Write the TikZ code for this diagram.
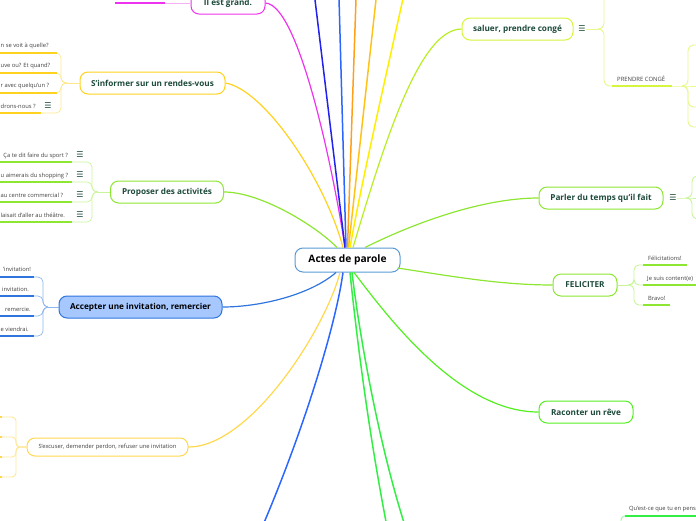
\documentclass[tikz,border=0pt]{standalone}
\usepackage{fontspec}
\setmainfont{Open Sans}
\newfontfamily\symfont{DejaVu Sans}
\definecolor{cMain}{HTML}{5B9BD5}
\definecolor{cText}{HTML}{1D4A3C}
\definecolor{cLeaf}{HTML}{404040}
\definecolor{cMag}{HTML}{EE33EE}
\definecolor{cMagL}{HTML}{F5B0F5}
\definecolor{cDBlue}{HTML}{2222EE}
\definecolor{cBlue}{HTML}{2B66FF}
\definecolor{cOrange}{HTML}{FF9F1A}
\definecolor{cOrGold}{HTML}{FFC21A}
\definecolor{cYellow}{HTML}{FFEE00}
\definecolor{cSal}{HTML}{B8EE22}
\definecolor{cSalB}{HTML}{D6F53F}
\definecolor{cSalL}{HTML}{E6F98A}
\definecolor{cGold}{HTML}{FFD21F}
\definecolor{cGoldL}{HTML}{FFE88A}
\definecolor{cLime}{HTML}{8DE632}
\definecolor{cLimeL}{HTML}{C9F59A}
\definecolor{cGreen}{HTML}{55EE22}
\definecolor{cBGreen}{HTML}{33EE44}
\definecolor{cAcc}{HTML}{2F75DD}
\definecolor{cAccF}{HTML}{A6C8FF}
\definecolor{cAccL}{HTML}{8FB5EE}
\definecolor{cExc}{HTML}{FFD84D}
\definecolor{cExcL}{HTML}{FFE799}
\begin{document}
\begin{tikzpicture}[x=1pt,y=-1pt,
  mainbox/.style={draw=cMain, line width=1pt, rounded corners=8pt, fill=white,
    minimum width=105pt, minimum height=24pt, inner sep=0pt,
    font=\bfseries\fontsize{10.2}{12}\selectfont, text=black},
  branch/.style={line width=1pt, rounded corners=8pt, fill=white, minimum height=22pt,
    inner sep=0pt, font=\bfseries\fontsize{8.2}{10}\selectfont, text=cText},
  leaf/.style={inner sep=0pt, font=\fontsize{5.8}{7}\selectfont, text=cLeaf},
  menu/.style={inner sep=0pt, font=\symfont\fontsize{8}{8}\selectfont, text=cText},
  link/.style={line width=1.2pt},
  straight/.style={line width=1.5pt},
  ul/.style={line width=1.6pt},
  thinline/.style={line width=0.7pt},
]
\useasboundingbox (0,0) rectangle (696,520);
\begin{scope}
\clip (0,0) rectangle (696,520);

% ---------- nodes ----------
\node[mainbox] (C) at (347.5,260) {Actes de parole};
\node[branch, draw=cMag, minimum width=74pt] (grand) at (228,3) {Il est grand.};
\node[branch, draw=cGold, minimum width=145pt] (inf) at (152.5,83) {S'informer sur un rendes-vous};
\node[branch, draw=cLime, minimum width=113pt] (prop) at (167,192) {Proposer des activités};
\node[branch, draw=cAcc, fill=cAccF, text=black, minimum width=163pt] (acc) at (140.5,307) {Accepter une invitation, remercier};
\node[branch, draw=cExc, minimum width=161pt, minimum height=18pt, font=\fontsize{5.8}{7}\selectfont, text=cLeaf] (exc) at (107.5,447) {S'excuser, demender perdon, refuser une invitation};
\node[branch, draw=cSalB, minimum width=111pt] (sal) at (517.5,29) {saluer, prendre congé};
\node[branch, draw=cLime, minimum width=124pt] (par) at (601,198) {Parler du temps qu'il fait};
\node[branch, draw=cLime, minimum width=64pt] (fel) at (585,285) {FELICITER};
\node[branch, draw=cGreen, minimum width=94pt] (rac) at (586,412) {Raconter un rêve};

% ---------- connectors from the centre ----------
\coordinate (t1) at (311.4,-30);
\coordinate (t2) at (338.2,-30);
\coordinate (t3) at (357,-30);
\coordinate (t4) at (379.3,-30);
\coordinate (t5) at (409.4,-30);
\coordinate (b1) at (260,532);
\coordinate (b2) at (388,532);
\coordinate (b3) at (407,532);

\draw[link, cMag] ([shift={(-2.5,0)}]C.north) .. controls (335,180) and (300,5) .. (grand.east);
\draw[straight, cDBlue] ([shift={(-2.5,0)}]C.north) -- (t1);
\draw[straight, cBlue] ([shift={(-1.5,0)}]C.north) -- (t2);
\draw[straight, cOrange] ([shift={(0,0)}]C.north) -- (t3);
\draw[straight, cOrGold] ([shift={(1,0)}]C.north) .. controls (356,180) and (366,90) .. (t4);
\draw[straight, cYellow] ([shift={(2.5,0)}]C.north) .. controls (362,180) and (385,80) .. (t5);
\draw[link, cSal] ([shift={(5.5,0)}]C.north) .. controls (385,140) and (420,29) .. (sal.west);
\draw[link, cGold] ([shift={(-4.5,0)}]C.north) .. controls (325,180) and (265,90) .. (inf.east);
\draw[link, cLime] ([shift={(-10.5,0)}]C.north) .. controls (315,225) and (260,192) .. (prop.east);
\draw[link, cLime] ([shift={(17.5,0)}]C.north) .. controls (410,225) and (480,198) .. (par.west);
\draw[link, cLime] ([shift={(-3,8)}]C.east) .. controls (450,276) and (500,285) .. (fel.west);
\draw[link, cAcc] ([shift={(-11.5,0)}]C.south) .. controls (310,295) and (260,307) .. (acc.east);
\draw[link, cExc] ([shift={(-7.5,0)}]C.south) .. controls (325,330) and (250,447) .. (exc.east);
\draw[straight, cBlue] ([shift={(-4.5,0)}]C.south) .. controls (335,330) and (300,440) .. (b1);
\draw[straight, cBGreen] ([shift={(2.5,0)}]C.south) .. controls (358,350) and (370,440) .. (b2);
\draw[straight, cBGreen] ([shift={(4.5,0)}]C.south) .. controls (360,340) and (380,450) .. (b3);
\draw[link, cGreen] ([shift={(6.5,0)}]C.south) .. controls (390,320) and (460,412) .. (rac.west);

% ---------- Il est grand. ----------
\coordinate (g1) at (165,3);
\coordinate (g2) at (115,3);
\draw[thinline, cMagL, line width=1pt] (grand.west) -- (g1);
\draw[ul, cMag] (g1) -- (g2);

% ---------- S'informer sur un rendes-vous ----------
\coordinate (infj) at (67,83);
\draw[thinline, cGoldL] (inf.west) -- (infj);
\foreach \yy/\xe in {53/57,73/57,93/57,113/41}{
  \draw[thinline, cGoldL, rounded corners=5pt] (infj) -- (61,83) -- (61,\yy) -- (\xe,\yy);
  \draw[ul, cGold] (0,\yy) -- (\xe,\yy);
}
\node[leaf, anchor=base west] (inf1) at (0.5,47) {n se voit à quelle?};
\node[leaf, anchor=base west] (inf2) at (0.5,67) {uve ou? Et quand?};
\node[leaf, anchor=base west] (inf3) at (0.5,87) {r avec quelqu'un ?};
\node[leaf, anchor=base west] (inf4) at (0.5,108) {drons-nous ?};
\node[menu] (infm) at (48,106) {☰};

% ---------- Proposer des activités ----------
\coordinate (propj) at (98,192);
\draw[thinline, cLimeL] (prop.west) -- (propj);
\foreach \yy in {162,182,202,222}{
  \draw[thinline, cLimeL, rounded corners=5pt] (propj) -- (92,192) -- (92,\yy) -- (72,\yy);
  \draw[ul, cLime] (0,\yy) -- (72,\yy);
}
\node[leaf, anchor=base east] (p1) at (68,157) {Ça te dit faire du sport ?};
\node[leaf, anchor=base west] (p2) at (0.5,177) {u aimerais du shopping ?};
\node[leaf, anchor=base west] (p3) at (0.5,197) {au centre commercial ?};
\node[leaf, anchor=base west] (p4) at (0.5,217) {laisait d'aller au théâtre.};
\node[menu] (pm1) at (80,155) {☰};
\node[menu] (pm2) at (80,175) {☰};
\node[menu] (pm3) at (80,195) {☰};
\node[menu] (pm4) at (80,215) {☰};

% ---------- Accepter une invitation, remercier ----------
\coordinate (accj) at (48,307);
\draw[thinline, cAccL] (acc.west) -- (accj);
\foreach \yy in {277,296,316,336}{
  \draw[thinline, cAccL, rounded corners=5pt] (accj) -- (43,307) -- (43,\yy) -- (34,\yy);
  \draw[ul, cAcc] (0,\yy) -- (34,\yy);
}
\node[leaf, anchor=base west] (a1) at (3,271) {'invitation!};
\node[leaf, anchor=base west] (a2) at (2,291) {invitation.};
\node[leaf, anchor=base west] (a3) at (5,311) {remercie.};
\node[leaf, anchor=base west] (a4) at (0.5,331) {e viendrai.};

% ---------- S'excuser ----------
\coordinate (excj) at (16,447);
\foreach \yy in {417,437,457,477}{
  \draw[thinline, cExcL, line width=0.9pt, rounded corners=4pt] (exc.west) -- (excj) -- (16,\yy) -- (-2,\yy);
  \draw[ul, cExc] (-2,\yy) -- (2,\yy);
}

% ---------- saluer, prendre congé ----------
\node[menu] (salm) at (582,29) {☰};
\coordinate (salj) at (598,29);
\coordinate (salc) at (612,86);
\draw[thinline, cSalL, line width=0.9pt] (salm.east) -- (salj);
\draw[thinline, cSalL, line width=0.9pt, rounded corners=6pt] (salj) -- (604,29) -- (604,-20);
\draw[thinline, cSalL, line width=0.9pt, rounded corners=6pt] (salj) -- (604,29) -- (604,86) -- (salc);
\coordinate (salce) at (672,86);
\draw[ul, cSalB] (salc) -- (salce);
\node[leaf, anchor=base west, font=\fontsize{5.9}{7}\selectfont] (pc) at (617,81) {PRENDRE CONGÉ};
\coordinate (pcj) at (682,86);
\draw[thinline, cSalL, line width=0.9pt] (salce) -- (pcj) -- (700,86);
\draw[thinline, cSalL, line width=0.9pt, rounded corners=6pt] (pcj) -- (688,86) -- (688,45) -- (700,45);
\draw[thinline, cSalL, line width=0.9pt, rounded corners=6pt] (pcj) -- (688,86) -- (688,107) -- (700,107);
\draw[thinline, cSalL, line width=0.9pt, rounded corners=6pt] (pcj) -- (688,86) -- (688,127) -- (700,127);

% ---------- Parler du temps qu'il fait ----------
\node[menu] (parm) at (673,198) {☰};
\coordinate (parj) at (687,198);
\draw[thinline, cLimeL, line width=0.9pt] (parm.east) -- (parj) -- (700,198);
\draw[thinline, cLimeL, line width=0.9pt, rounded corners=6pt] (parj) -- (692,198) -- (692,176) -- (700,176);
\draw[thinline, cLimeL, line width=0.9pt, rounded corners=6pt] (parj) -- (692,198) -- (692,219) -- (700,219);

% ---------- FELICITER ----------
\coordinate (felj) at (628,285);
\draw[thinline, cLimeL, line width=0.9pt] (fel.east) -- (felj);
\foreach \yy/\xe in {265/687,285/700,305/670}{
  \draw[thinline, cLimeL, line width=0.9pt, rounded corners=5pt] (felj) -- (634,285) -- (634,\yy) -- (643,\yy);
  \draw[ul, cLime] (643,\yy) -- (\xe,\yy);
}
\node[leaf, anchor=base west] (f1) at (648,260) {Félicitations!};
\node[leaf, anchor=base west] (f2) at (647,280) {Je suis content(e)};
\node[leaf, anchor=base west] (f3) at (648,300) {Bravo!};

% ---------- bottom right ----------
\coordinate (qj) at (621,525);
\coordinate (qs) at (625,516);
\draw[thinline, cBGreen!50, line width=0.9pt, rounded corners=4pt] (qj) -- (621,516) -- (qs);
\draw[ul, cBGreen] (qs) -- (700,516);
\node[leaf, anchor=base west] (q1) at (629,510) {Qu'est-ce que tu en pens};
\end{scope}
\end{tikzpicture}
\end{document}
